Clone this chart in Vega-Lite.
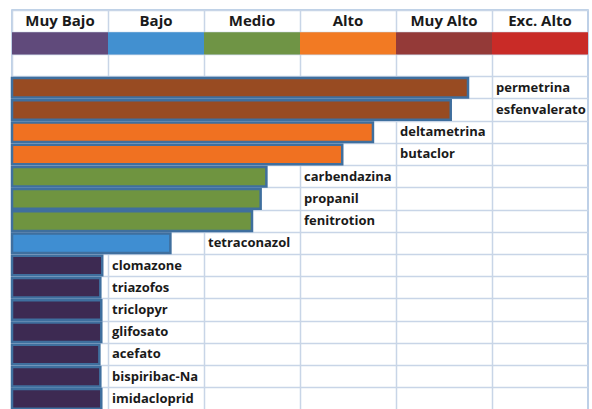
{
  "$schema": "https://vega.github.io/schema/vega-lite/v6.json",
  "width": 576,
  "height": 400,
  "autosize": {"type": "none"},
  "padding": {"left": 12, "top": 10, "right": 4, "bottom": 0},
  "background": "white",
  "config": {
    "view": {"stroke": "#a9c1df", "strokeWidth": 1.5},
    "font": "Open Sans",
    "axisX": {"grid": true, "gridColor": "#c8d5e7", "gridWidth": 1.5, "labels": false, "ticks": false, "domain": false, "zindex": 0},
    "axisY": {"grid": true, "gridColor": "#c8d5e7", "gridWidth": 1.5, "labels": false, "ticks": false, "domain": false, "bandPosition": 0, "zindex": 0}
  },
  "datasets": {
    "levels": [
      {"level": "Muy Bajo"},
      {"level": "Bajo"},
      {"level": "Medio"},
      {"level": "Alto"},
      {"level": "Muy Alto"},
      {"level": "Exc. Alto"}
    ],
    "pest": [
      {"name": "permetrina", "value": 4.75, "clase": "Muy Alto", "labelCol": "Exc. Alto"},
      {"name": "esfenvalerato", "value": 4.57, "clase": "Muy Alto", "labelCol": "Exc. Alto"},
      {"name": "deltametrina", "value": 3.76, "clase": "Alto", "labelCol": "Muy Alto"},
      {"name": "butaclor", "value": 3.44, "clase": "Alto", "labelCol": "Muy Alto"},
      {"name": "carbendazina", "value": 2.65, "clase": "Medio", "labelCol": "Alto"},
      {"name": "propanil", "value": 2.59, "clase": "Medio", "labelCol": "Alto"},
      {"name": "fenitrotion", "value": 2.5, "clase": "Medio", "labelCol": "Alto"},
      {"name": "tetraconazol", "value": 1.65, "clase": "Bajo", "labelCol": "Medio"},
      {"name": "clomazone", "value": 0.94, "clase": "Muy Bajo", "labelCol": "Bajo"},
      {"name": "triazofos", "value": 0.92, "clase": "Muy Bajo", "labelCol": "Bajo"},
      {"name": "triclopyr", "value": 0.93, "clase": "Muy Bajo", "labelCol": "Bajo"},
      {"name": "glifosato", "value": 0.93, "clase": "Muy Bajo", "labelCol": "Bajo"},
      {"name": "acefato", "value": 0.91, "clase": "Muy Bajo", "labelCol": "Bajo"},
      {"name": "bispiribac-Na", "value": 0.92, "clase": "Muy Bajo", "labelCol": "Bajo"},
      {"name": "imidacloprid", "value": 0.93, "clase": "Muy Bajo", "labelCol": "Bajo"}
    ]
  },
  "layer": [
    {
      "data": {"name": "levels"},
      "mark": {"type": "rect", "zindex": 1},
      "encoding": {
        "x": {"field": "level", "type": "nominal", "scale": {"domain": ["Muy Bajo", "Bajo", "Medio", "Alto", "Muy Alto", "Exc. Alto"], "paddingInner": 0, "paddingOuter": 0}, "axis": {"title": null, "bandPosition": 0, "grid": true}},
        "y": {"datum": "h1", "type": "nominal", "scale": {"domain": ["h0", "h1", "h2", "permetrina", "esfenvalerato", "deltametrina", "butaclor", "carbendazina", "propanil", "fenitrotion", "tetraconazol", "clomazone", "triazofos", "triclopyr", "glifosato", "acefato", "bispiribac-Na", "imidacloprid"], "paddingInner": 0, "paddingOuter": 0}, "axis": {"title": null}},
        "color": {"field": "level", "type": "nominal", "scale": {"domain": ["Muy Bajo", "Bajo", "Medio", "Alto", "Muy Alto", "Exc. Alto"], "range": ["#604a7b", "#4290d0", "#6f9445", "#f27a23", "#943a38", "#c92b27"]}, "legend": null}
      }
    },
    {
      "data": {"name": "levels"},
      "mark": {"type": "text", "fontWeight": "bold", "fontSize": 15, "color": "#1a1a1a", "align": "center", "baseline": "middle", "zindex": 1},
      "encoding": {
        "x": {"field": "level", "type": "nominal", "scale": {"domain": ["Muy Bajo", "Bajo", "Medio", "Alto", "Muy Alto", "Exc. Alto"], "paddingInner": 0, "paddingOuter": 0}, "axis": null},
        "y": {"datum": "h0", "type": "nominal", "axis": {"title": null}},
        "text": {"field": "level"}
      }
    },
    {
      "data": {"name": "pest"},
      "mark": {"type": "bar", "height": {"band": 0.88}, "stroke": "#3f6f9e", "strokeWidth": 2.5, "zindex": 1},
      "encoding": {
        "x": {"field": "value", "type": "quantitative", "scale": {"domain": [0, 6], "nice": false}, "axis": null},
        "y": {"field": "name", "type": "nominal", "axis": {"title": null}},
        "color": {"field": "clase", "type": "nominal", "scale": {"domain": ["Muy Bajo", "Bajo", "Medio", "Alto", "Muy Alto"], "range": ["#3d2a52", "#3f8ed2", "#6f9440", "#f07121", "#984b22"]}, "legend": null}
      }
    },
    {
      "data": {"name": "pest"},
      "mark": {"type": "text", "fontWeight": "bold", "fontSize": 13, "color": "#1a1a1a", "align": "left", "baseline": "middle", "dx": -44, "zindex": 1},
      "encoding": {
        "x": {"field": "labelCol", "type": "nominal", "scale": {"domain": ["Muy Bajo", "Bajo", "Medio", "Alto", "Muy Alto", "Exc. Alto"], "paddingInner": 0, "paddingOuter": 0}, "axis": null},
        "y": {"field": "name", "type": "nominal", "axis": {"title": null}},
        "text": {"field": "name"}
      }
    }
  ],
  "resolve": {"scale": {"x": "independent", "color": "independent"}, "axis": {"x": "independent"}}
}
